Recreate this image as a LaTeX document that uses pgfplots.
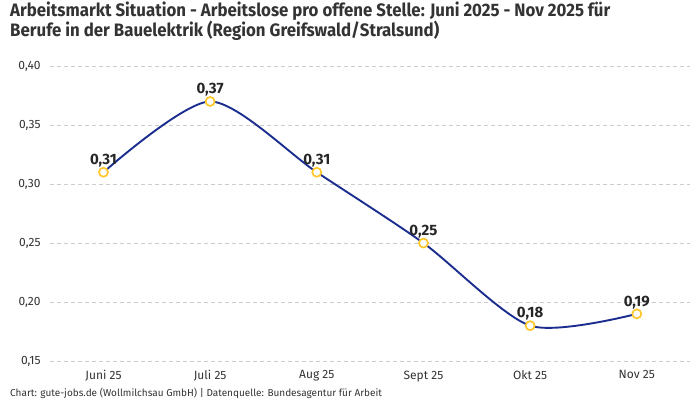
\documentclass[border=0pt]{standalone}
\usepackage{fontspec}
\setmainfont{Fira Sans}
\newfontfamily\titlefont[FakeStretch=0.935]{Fira Sans}
\usepackage{pgfplots}
\pgfplotsset{compat=1.18}

\definecolor{linie}{HTML}{1B2D8F}
\definecolor{punkt}{HTML}{FFC72C}
\definecolor{gitter}{HTML}{CCCCCC}
\definecolor{schrift}{HTML}{333333}

\begin{document}
\begin{tikzpicture}[x=1pt,y=1pt]
  \path[use as bounding box] (0,0) rectangle (700,400);
  \node[anchor=north west, align=left, inner sep=0pt, text=schrift,
        font=\titlefont\bfseries\fontsize{18}{20}\selectfont] at (10,398)
    {Arbeitsmarkt Situation - Arbeitslose pro offene Stelle: Juni 2025 - Nov 2025 für\\
     Berufe in der Bauelektrik (Region Greifswald/Stralsund)};
  \begin{axis}[
      at={(47,33)}, anchor=south west,
      scale only axis, width=640, height=295,
      xmin=-0.5, xmax=5.5, ymin=0.15, ymax=0.40,
      axis line style={draw=none},
      xtick={0,1,2,3,4,5},
      xticklabels={Juni 25,Juli 25,Aug 25,Sept 25,Okt 25,Nov 25},
      ytick={0.15,0.20,0.25,0.30,0.35,0.40},
      ymajorgrids, major grid style={gitter, dash pattern=on 4pt off 3pt, line width=0.7pt},
      major tick length=0pt,
      tick label style={text=schrift, font=\fontsize{12}{14}\selectfont},
      xticklabel style={yshift=-6pt},
      yticklabel style={xshift=-6pt},
      /pgf/number format/assume math mode=true,
      /pgf/number format/use comma,
      /pgf/number format/fixed,
      /pgf/number format/fixed zerofill,
      /pgf/number format/precision=2,
      clip=false,
    ]
    \addplot[linie, line width=1.9pt, smooth, tension=0.45,
             mark=*, mark size=4.5pt,
             mark options={draw=punkt, fill=white, line width=1.7pt},
             nodes near coords,
             every node near coord/.append style={font=\bfseries\fontsize{15}{17}\selectfont, text=black!85, yshift=1pt}]
      coordinates {(0,0.31) (1,0.37) (2,0.31) (3,0.25) (4,0.18) (5,0.19)};
  \end{axis}
  \node[anchor=west, inner sep=0pt, text=schrift, font=\fontsize{10}{12}\selectfont] at (10,7)
    {Chart: gute-jobs.de (Wollmilchsau GmbH) | Datenquelle: Bundesagentur für Arbeit};
\end{tikzpicture}
\end{document}
